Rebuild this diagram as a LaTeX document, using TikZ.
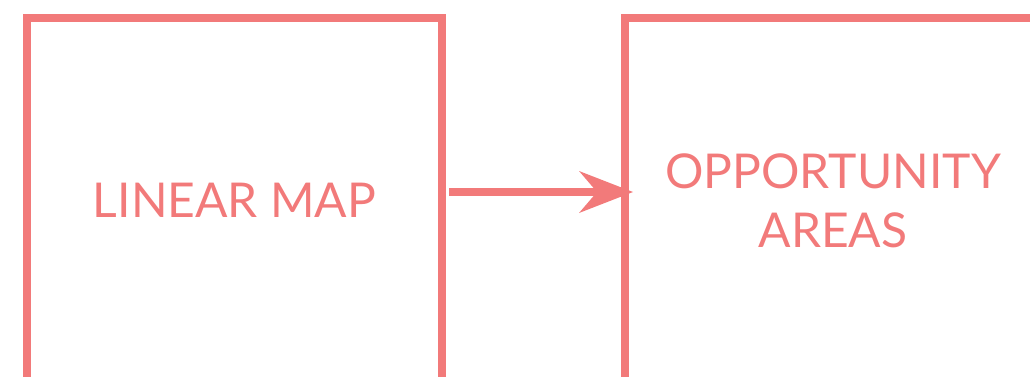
\documentclass[tikz,border=0pt]{standalone}
\usepackage{fontspec}
\setmainfont{Lato}
\usetikzlibrary{arrows.meta}
\definecolor{salmon}{RGB}{242,122,122}
\tikzset{
  box/.style={draw=salmon, line width=8pt, rectangle, inner sep=0pt, outer sep=0pt},
  lbl/.style={text=salmon, font=\fontsize{48}{59}\selectfont, align=center, inner sep=0pt},
  conn/.style={draw=salmon, line width=7.5pt, -{Stealth[length=54pt, width=42pt, inset=18pt, line width=0pt]}}
}
\begin{document}
\begin{tikzpicture}[x=1pt,y=-1pt]
\useasboundingbox (0,0) rectangle (1030,376);
\clip (0,0) rectangle (1030,376);
\node[box, minimum width=415pt, minimum height=402pt] (leftbox) at (234.5,219) {};
\node[box, minimum width=500pt, minimum height=402pt, anchor=north west] (rightbox) at (625,18) {};
\node[lbl] (ltext) at (234.5,200) {LINEAR MAP};
\node[lbl] (rtext) at (833,201) {OPPORTUNITY\\AREAS};
\coordinate (ay) at (0,192);
\draw[conn] ([xshift=7pt]leftbox.east |- ay) -- ([xshift=8pt]rightbox.west |- ay);
\end{tikzpicture}
\end{document}
